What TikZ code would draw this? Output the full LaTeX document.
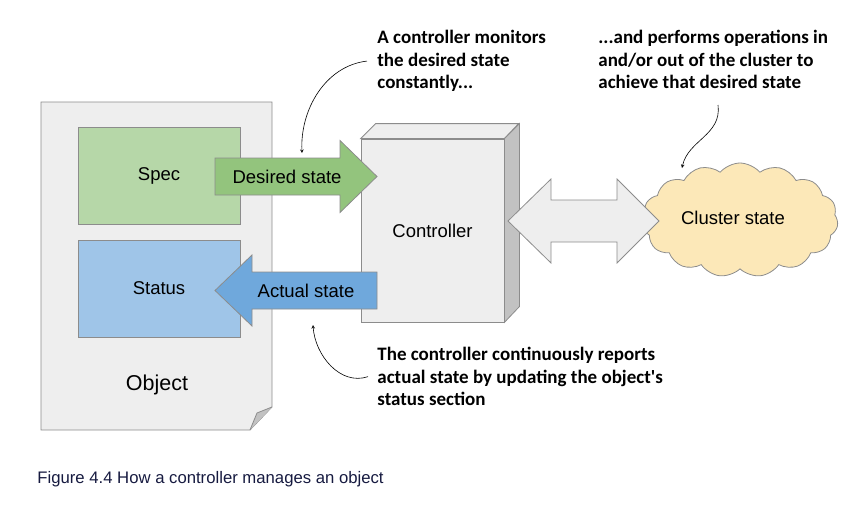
\documentclass[tikz,border=0pt]{standalone}
\usepackage{fontspec}
\setmainfont{Liberation Sans}
\newfontfamily\notefont{Carlito}
\usepackage{xcolor}
\usetikzlibrary{arrows}
\usetikzlibrary{shapes.symbols}
\definecolor{fondgris}{HTML}{EEEEEE}
\definecolor{bordgris}{HTML}{8C8C8C}
\definecolor{specvert}{HTML}{B6D7A8}
\definecolor{flechevert}{HTML}{93C47D}
\definecolor{statusbleu}{HTML}{9FC5E8}
\definecolor{flechebleu}{HTML}{6FA8DC}
\definecolor{cotegris}{HTML}{C2C2C2}
\definecolor{nuage}{HTML}{FCE8B8}
\definecolor{legende}{HTML}{161A40}

\begin{document}
\begin{tikzpicture}[x=1pt,y=-1pt,line width=0.8pt,
    boite/.style={draw=bordgris, minimum width=162pt, minimum height=97pt, font=\fontsize{18.5}{22}\selectfont},
    etiquette/.style={font=\fontsize{18.5}{22}\selectfont},
    note/.style={align=left, anchor=north west, inner sep=0pt, font=\notefont\bfseries\fontsize{19}{22.5}\selectfont}]
    \useasboundingbox (0,0) rectangle (868,506);
    % page objet
    \filldraw[fill=fondgris, draw=bordgris] (41,102) -- (272,102) -- (272,407) -- (250,430) -- (41,430) -- cycle;
    \filldraw[fill=cotegris, draw=bordgris] (272,407) -- (257,413) -- (250,430);
    \node[boite, fill=specvert] (spec) at (159,175.5) {Spec};
    \node[boite, fill=statusbleu] (status) at (159,288.5) {Status};
    \node[font=\fontsize{21.5}{25}\selectfont] (object) at (157,385) {Object};
    % controleur
    \node[draw=bordgris, fill=fondgris, minimum width=143pt, minimum height=183pt, etiquette] (controller) at (432.5,230.5) {Controller};
    \filldraw[fill=fondgris, draw=bordgris] (controller.north west) -- ++(15,-15) -- ++(143,0) -- (controller.north east) -- cycle;
    \filldraw[fill=cotegris, draw=bordgris] (controller.north east) -- ++(15,-15) -- ++(0,183) -- (controller.south east) -- cycle;
    % etat du cluster
    \node[cloud, cloud puffs=15, cloud puff arc=100, aspect=1.8, draw=bordgris, fill=nuage, minimum width=196pt, minimum height=114pt, inner sep=0pt] (cluster) at (740,220) {};
    \node[etiquette] (clusterlabel) at (733,218) {Cluster state};
    % fleches
    \filldraw[fill=flechevert, draw=bordgris] (215,158) -- (340,158) -- (340,140.5) -- (377,176.5) -- (340,212.5) -- (340,195) -- (215,195) -- cycle;
    \node[etiquette] (desired) at (287,176.5) {Desired state};
    \filldraw[fill=flechebleu, draw=bordgris] (215,290.5) -- (252,255) -- (252,272) -- (377,272) -- (377,309) -- (252,309) -- (252,326) -- cycle;
    \node[etiquette] (actual) at (306,290.5) {Actual state};
    \filldraw[fill=fondgris, draw=bordgris] (508,221) -- (551,179) -- (551,200) -- (617,200) -- (617,179) -- (659,221) -- (617,263) -- (617,242) -- (551,242) -- (551,263) -- cycle;
    % notes
    \node[note] (monitors) at (377,30) {A controller monitors\\the desired state\\constantly...};
    \node[note] (performs) at (598,30) {...and performs operations in\\and/or out of the cluster to\\achieve that desired state};
    \node[note] (reports) at (377,347) {The controller continuously reports\\actual state by updating the object's\\status section};
    \coordinate (monitorsend) at (302,153);
    \coordinate (performsend) at (682,168);
    \coordinate (reportsend) at (313,325);
    \draw[-stealth, line width=0.6pt] ([xshift=-10pt]monitors.west) .. controls (325,66) and (300,110) .. (monitorsend);
    \draw[-stealth, line width=0.6pt] (718,105) .. controls (722,135) and (688,140) .. (performsend);
    \draw[-stealth, line width=0.6pt] ([xshift=-9pt]reports.west) .. controls (340,386) and (315,355) .. (reportsend);
    % legende
    \node[anchor=west, inner sep=0pt, text=legende, font=\fontsize{16.7}{19}\selectfont] (caption) at (37,479) {Figure 4.4 How a controller manages an object};
\end{tikzpicture}
\end{document}
